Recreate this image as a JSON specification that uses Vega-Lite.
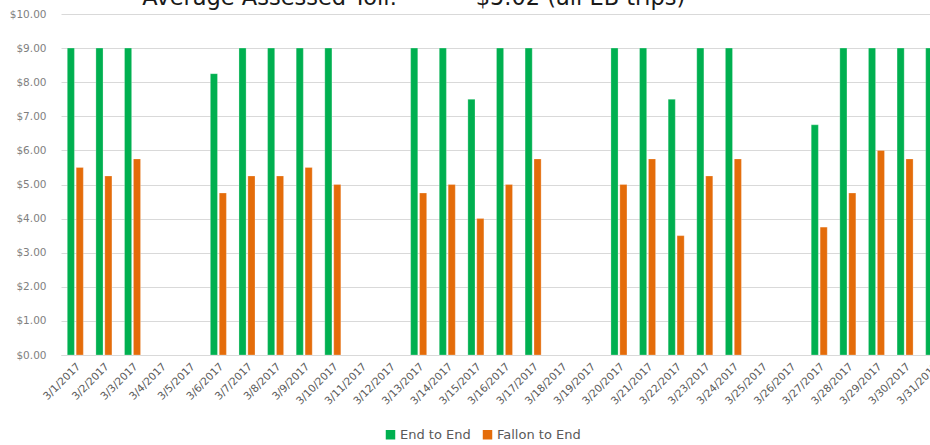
{
  "$schema": "https://vega.github.io/schema/vega-lite/v6.json",
  "autosize": {"type": "none"},
  "width": 869,
  "height": 341,
  "padding": {"left": 61, "top": 14, "right": 0, "bottom": 90},
  "background": "white",
  "title": {
    "text": "Average Assessed Toll:\u00a0\u00a0\u00a0\u00a0\u00a0\u00a0\u00a0\u00a0\u00a0\u00a0\u00a0$5.02 (all EB trips)",
    "anchor": "start",
    "dx": 133,
    "dy": 22,
    "baseline": "alphabetic",
    "font": "DejaVu Sans",
    "fontSize": 22.5,
    "fontWeight": "normal",
    "color": "#1a1a1a"
  },
  "data": {
    "values": [
      {"date": "3/1/2017", "series": "End to End", "toll": 9},
      {"date": "3/1/2017", "series": "Fallon to End", "toll": 5.5},
      {"date": "3/2/2017", "series": "End to End", "toll": 9},
      {"date": "3/2/2017", "series": "Fallon to End", "toll": 5.25},
      {"date": "3/3/2017", "series": "End to End", "toll": 9},
      {"date": "3/3/2017", "series": "Fallon to End", "toll": 5.75},
      {"date": "3/6/2017", "series": "End to End", "toll": 8.25},
      {"date": "3/6/2017", "series": "Fallon to End", "toll": 4.75},
      {"date": "3/7/2017", "series": "End to End", "toll": 9},
      {"date": "3/7/2017", "series": "Fallon to End", "toll": 5.25},
      {"date": "3/8/2017", "series": "End to End", "toll": 9},
      {"date": "3/8/2017", "series": "Fallon to End", "toll": 5.25},
      {"date": "3/9/2017", "series": "End to End", "toll": 9},
      {"date": "3/9/2017", "series": "Fallon to End", "toll": 5.5},
      {"date": "3/10/2017", "series": "End to End", "toll": 9},
      {"date": "3/10/2017", "series": "Fallon to End", "toll": 5.0},
      {"date": "3/13/2017", "series": "End to End", "toll": 9},
      {"date": "3/13/2017", "series": "Fallon to End", "toll": 4.75},
      {"date": "3/14/2017", "series": "End to End", "toll": 9},
      {"date": "3/14/2017", "series": "Fallon to End", "toll": 5.0},
      {"date": "3/15/2017", "series": "End to End", "toll": 7.5},
      {"date": "3/15/2017", "series": "Fallon to End", "toll": 4.0},
      {"date": "3/16/2017", "series": "End to End", "toll": 9},
      {"date": "3/16/2017", "series": "Fallon to End", "toll": 5.0},
      {"date": "3/17/2017", "series": "End to End", "toll": 9},
      {"date": "3/17/2017", "series": "Fallon to End", "toll": 5.75},
      {"date": "3/20/2017", "series": "End to End", "toll": 9},
      {"date": "3/20/2017", "series": "Fallon to End", "toll": 5.0},
      {"date": "3/21/2017", "series": "End to End", "toll": 9},
      {"date": "3/21/2017", "series": "Fallon to End", "toll": 5.75},
      {"date": "3/22/2017", "series": "End to End", "toll": 7.5},
      {"date": "3/22/2017", "series": "Fallon to End", "toll": 3.5},
      {"date": "3/23/2017", "series": "End to End", "toll": 9},
      {"date": "3/23/2017", "series": "Fallon to End", "toll": 5.25},
      {"date": "3/24/2017", "series": "End to End", "toll": 9},
      {"date": "3/24/2017", "series": "Fallon to End", "toll": 5.75},
      {"date": "3/27/2017", "series": "End to End", "toll": 6.75},
      {"date": "3/27/2017", "series": "Fallon to End", "toll": 3.75},
      {"date": "3/28/2017", "series": "End to End", "toll": 9},
      {"date": "3/28/2017", "series": "Fallon to End", "toll": 4.75},
      {"date": "3/29/2017", "series": "End to End", "toll": 9},
      {"date": "3/29/2017", "series": "Fallon to End", "toll": 6.0},
      {"date": "3/30/2017", "series": "End to End", "toll": 9},
      {"date": "3/30/2017", "series": "Fallon to End", "toll": 5.75},
      {"date": "3/31/2017", "series": "End to End", "toll": 9},
      {"date": "3/31/2017", "series": "Fallon to End", "toll": 5.5}
    ]
  },
  "mark": {"type": "bar", "stroke": "white", "strokeOpacity": 0.5, "strokeWidth": 0.5},
  "encoding": {
    "x": {
      "field": "date",
      "type": "nominal",
      "scale": {
        "domain": ["3/1/2017","3/2/2017","3/3/2017","3/4/2017","3/5/2017","3/6/2017","3/7/2017","3/8/2017","3/9/2017","3/10/2017","3/11/2017","3/12/2017","3/13/2017","3/14/2017","3/15/2017","3/16/2017","3/17/2017","3/18/2017","3/19/2017","3/20/2017","3/21/2017","3/22/2017","3/23/2017","3/24/2017","3/25/2017","3/26/2017","3/27/2017","3/28/2017","3/29/2017","3/30/2017","3/31/2017"],
        "range": [0, 887],
        "paddingInner": 0.44,
        "paddingOuter": 0.22
      },
      "axis": {
        "title": null,
        "labelAngle": -45,
        "labelFont": "DejaVu Sans",
        "labelFontSize": 10.5,
        "labelColor": "#595959",
        "ticks": false,
        "domainColor": "#d9d9d9",
        "labelPadding": 6
      }
    },
    "xOffset": {
      "field": "series",
      "type": "nominal",
      "scale": {"paddingInner": 0.2}
    },
    "y": {
      "field": "toll",
      "type": "quantitative",
      "scale": {"domain": [0, 10]},
      "axis": {
        "title": null,
        "values": [0,1,2,3,4,5,6,7,8,9,10],
        "format": "$.2f",
        "labelFont": "DejaVu Sans",
        "labelFontSize": 10.5,
        "labelColor": "#7f7f7f",
        "domain": false,
        "ticks": false,
        "gridColor": "#d9d9d9",
        "labelPadding": 15
      }
    },
    "color": {
      "field": "series",
      "type": "nominal",
      "scale": {"domain": ["End to End", "Fallon to End"], "range": ["#00b050", "#e46c0a"]},
      "legend": {
        "title": null,
        "orient": "none",
        "legendX": 323,
        "legendY": 414,
        "direction": "horizontal",
        "symbolType": "square",
        "symbolSize": 90,
        "symbolStrokeWidth": 0,
        "labelFont": "DejaVu Sans",
        "labelFontSize": 13,
        "labelColor": "#595959",
        "columnPadding": 10,
        "labelOffset": 3
      }
    }
  },
  "config": {"view": {"stroke": null}}
}
